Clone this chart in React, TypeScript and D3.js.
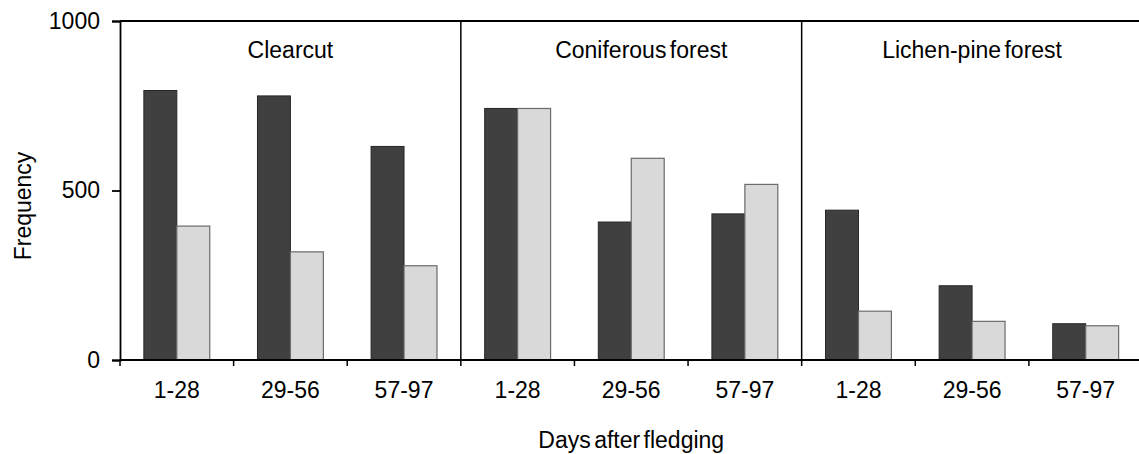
import React, { useEffect, useRef } from 'react';
import * as d3 from 'd3';

const habitats = ['Clearcut', 'Coniferous forest', 'Lichen-pine forest'];
const periods = ['1-28', '29-56', '57-97'];
const seriesKeys = ['dark', 'light'];
const darkValues = [795, 779, 630, 742, 407, 431, 442, 219, 107];
const lightValues = [395, 319, 278, 742, 595, 518, 144, 114, 101];
const yTicks = [0, 500, 1000];

const W = 1139;
const H = 454;
const FONT = 'Liberation Sans, Arial, sans-serif';

export default function App() {
  const svgRef = useRef<SVGSVGElement>(null);

  useEffect(() => {
    if (!svgRef.current) return;
    const svg = d3.select(svgRef.current);
    svg.selectAll('*').remove();

    const left = 120;
    const right = 1142.5;
    const top = 21;
    const bottom = 360;

    const cats = habitats.flatMap((h) => periods.map((p) => `${h}|${p}`));
    const rows = cats.map((c, i) => ({ key: c, period: c.split('|')[1], dark: darkValues[i], light: lightValues[i] }));

    const x = d3.scaleBand<string>().domain(cats).range([left, right]).paddingInner(0.42).paddingOuter(0.21);
    const xSub = d3.scaleBand<string>().domain(seriesKeys).range([0, x.bandwidth()]);
    const y = d3.scaleLinear().domain([0, 1000]).range([bottom, top]);
    const step = x.step();
    const boundary = (i: number) => left + i * step;

    // bars
    const groups = svg.append('g').selectAll('g').data(rows).enter().append('g')
      .attr('transform', (d) => `translate(${x(d.key)},0)`);
    groups.append('rect')
      .attr('x', xSub('dark')!)
      .attr('y', (d) => y(d.dark))
      .attr('width', xSub.bandwidth())
      .attr('height', (d) => bottom - y(d.dark))
      .attr('fill', '#404040')
      .attr('stroke', '#262626')
      .attr('stroke-width', 1);
    groups.append('rect')
      .attr('x', xSub('light')!)
      .attr('y', (d) => y(d.light))
      .attr('width', xSub.bandwidth())
      .attr('height', (d) => bottom - y(d.light))
      .attr('fill', '#d9d9d9')
      .attr('stroke', '#6b6b6b')
      .attr('stroke-width', 1.2);

    // panel dividers
    [3, 6].forEach((i) => {
      svg.append('line')
        .attr('x1', boundary(i)).attr('x2', boundary(i))
        .attr('y1', top).attr('y2', bottom)
        .attr('stroke', '#000').attr('stroke-width', 1.5);
    });

    // top border
    svg.append('line')
      .attr('x1', left).attr('x2', W)
      .attr('y1', top).attr('y2', top)
      .attr('stroke', '#000').attr('stroke-width', 1.8);

    // y axis
    const yAxis = d3.axisLeft(y).tickValues(yTicks).tickSize(8).tickPadding(12).tickFormat(d3.format('d'));
    svg.append('g')
      .attr('transform', `translate(${left},0)`)
      .call(yAxis)
      .call((g) => g.select('.domain').attr('stroke', '#000').attr('stroke-width', 1.8))
      .call((g) => g.selectAll('.tick line').attr('stroke', '#000').attr('stroke-width', 1.8))
      .call((g) => g.selectAll('.tick text').attr('fill', '#000').attr('font-size', 23).attr('font-family', FONT));

    // x axis: baseline + boundary ticks
    svg.append('line')
      .attr('x1', left).attr('x2', W)
      .attr('y1', bottom).attr('y2', bottom)
      .attr('stroke', '#000').attr('stroke-width', 1.8);
    d3.range(0, 10).forEach((i) => {
      svg.append('line')
        .attr('x1', boundary(i)).attr('x2', boundary(i))
        .attr('y1', bottom).attr('y2', bottom + 6)
        .attr('stroke', '#000').attr('stroke-width', 1.5);
    });
    svg.append('g').selectAll('text').data(rows).enter().append('text')
      .attr('x', (d) => x(d.key)! + x.bandwidth() / 2)
      .attr('y', 398)
      .attr('text-anchor', 'middle')
      .attr('font-size', 23)
      .attr('font-family', FONT)
      .text((d) => d.period);

    // panel titles
    const titleShift: Record<string, number> = { 'Coniferous forest': 10 };
    svg.append('g').selectAll('text').data(habitats).enter().append('text')
      .attr('x', (d, i) => (boundary(i * 3) + boundary(i * 3 + 3)) / 2 + (titleShift[d] || 0))
      .attr('y', 57.5)
      .attr('text-anchor', 'middle')
      .attr('font-size', 23)
      .attr('font-family', FONT)
      .attr('word-spacing', -3)
      .text((d) => d);

    // axis titles
    svg.append('text')
      .attr('x', (left + right) / 2)
      .attr('y', 448)
      .attr('text-anchor', 'middle')
      .attr('font-size', 23)
      .attr('font-family', FONT)
      .attr('word-spacing', -3)
      .text('Days after fledging');

    svg.append('text')
      .attr('transform', `translate(31,206) rotate(-90)`)
      .attr('text-anchor', 'middle')
      .attr('font-size', 23)
      .attr('font-family', FONT)
      .text('Frequency');
  }, []);

  return (
    <svg
      ref={svgRef}
      width={W}
      height={H}
      style={{ position: 'absolute', left: 0, top: 0, background: '#fff' }}
    />
  );
}
